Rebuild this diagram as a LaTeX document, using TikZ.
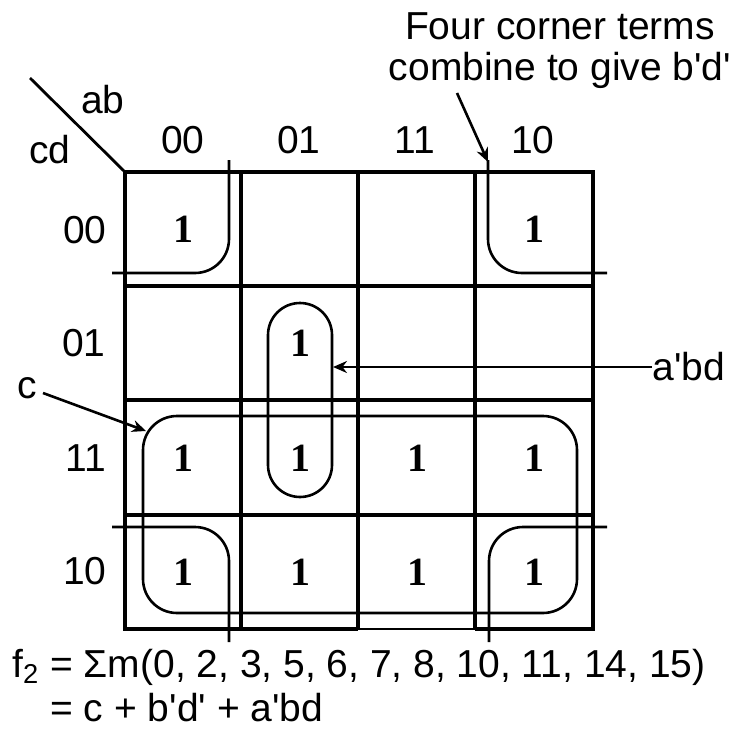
\documentclass[tikz,border=0pt]{standalone}
\usepackage{fontspec}
\setmainfont{Liberation Sans}
\newfontfamily\serifone{Liberation Serif}
\newcommand{\apo}{\textquotesingle}
\usetikzlibrary{arrows.meta}

\begin{document}
\begin{tikzpicture}[
  x=0.5pt, y=-0.5pt,
  lbl/.style={inner sep=0pt, font=\fontsize{19.5}{22}\selectfont},
  one/.style={inner sep=0pt, font=\serifone\bfseries\fontsize{20}{22}\selectfont},
  grid/.style={line width=2.3pt},
  ring/.style={line width=1.3pt, rounded corners=17pt},
  arrow/.style={-{Stealth[length=7pt, width=6pt]}, line width=1.3pt}
]
  \useasboundingbox (0,0) rectangle (733,734);

  % map grid
  \coordinate (corner) at (125,172);
  \draw[grid] (358,629) -- (125,629) -- (corner) -- (593,172) -- (593,629) -- (475,629);
  \draw[line width=1pt] (358,629) -- (475,629);
  \draw[grid] (241,172) -- (241,629);
  \draw[grid] (358,172) -- (358,629);
  \draw[grid] (475,172) -- (475,629);
  \draw[grid] (125,286) -- (593,286);
  \draw[grid] (125,400) -- (593,400);
  \draw[grid] (125,515) -- (593,515);

  % corner labels
  \coordinate (diag) at (30,78);
  \draw[line width=1.4pt] (diag) -- (corner);
  \node[lbl] (ab) at (103,100) {ab};
  \node[lbl] (cd) at (50,150)  {cd};

  % column and row labels
  \node[lbl] (col00) at (183,140) {00};
  \node[lbl] (col01) at (299,140) {01};
  \node[lbl] (col11) at (415,140) {11};
  \node[lbl] (col10) at (533,140) {10};
  \node[lbl] (row00) at (85,230)  {00};
  \node[lbl] (row01) at (84,343)  {01};
  \node[lbl] (row11) at (86,458)  {11};
  \node[lbl] (row10) at (85,571)  {10};

  % ones
  \node[one] (m0)  at (183,229) {1};
  \node[one] (m8)  at (534,229) {1};
  \node[one] (m5)  at (300,343) {1};
  \node[one] (m3)  at (183,458) {1};
  \node[one] (m7)  at (300,458) {1};
  \node[one] (m15) at (417,458) {1};
  \node[one] (m11) at (534,458) {1};
  \node[one] (m2)  at (183,572) {1};
  \node[one] (m6)  at (300,572) {1};
  \node[one] (m14) at (417,572) {1};
  \node[one] (m10) at (534,572) {1};

  % groups
  \draw[ring] (143,416) rectangle (577,613);
  \draw[ring, rounded corners=16pt] (268,303) rectangle (332,497);
  \draw[ring] (229,160) -- (229,273) -- (112,273);
  \draw[ring] (488,160) -- (488,273) -- (607,273);
  \draw[ring] (112,527) -- (229,527) -- (229,642);
  \draw[ring] (607,527) -- (489,527) -- (489,642);

  % callouts
  \coordinate (ctip) at (146,431);
  \coordinate (cstart) at (43,393);
  \coordinate (abdtip) at (333,367);
  \coordinate (cornertip) at (488,162);
  \coordinate (notefoot) at (457,93);
  \node[lbl] (c) at (27,388) {c};
  \node[lbl, anchor=west] (abd) at (652,367) {a\apo bd};
  \node[lbl, align=center, font=\fontsize{19.5}{20.5}\selectfont] (note) at (560,51)
    {Four corner terms\\combine to give b\apo d\apo};
  \draw[arrow] (cstart) -- (ctip);
  \draw[arrow] (abd.west) -- (abdtip);
  \draw[arrow] (notefoot) -- (cornertip);

  % function
  \node[lbl, anchor=west] (fsum) at (12,667)
    {f\textsubscript{2} = Σm(0, 2, 3, 5, 6, 7, 8, 10, 11, 14, 15)};
  \node[lbl, anchor=west] (fmin) at (50,708) {= c + b\apo d\apo{} + a\apo bd};
\end{tikzpicture}
\end{document}
